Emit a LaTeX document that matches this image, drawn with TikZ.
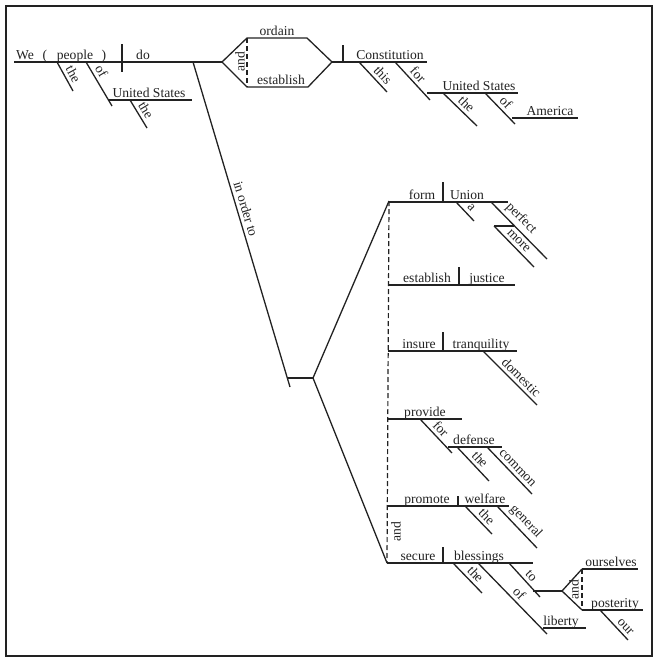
\documentclass[tikz,border=0pt]{standalone}
\usepackage{fontspec}
\setmainfont{Liberation Serif}
\definecolor{ink}{HTML}{222222}
\begin{document}
\begin{tikzpicture}[x=1pt,y=-1pt,
  ln/.style={draw=ink, line width=1.3pt},
  dl/.style={draw=ink, line width=1.2pt, dash pattern=on 5pt off 3pt},
  wd/.style={font=\fontsize{13.6}{15}\selectfont, text=ink, inner sep=0pt, anchor=base},
  sl/.style={font=\fontsize{13.6}{15}\selectfont, text=ink, sloped, above, inner sep=3.2pt},
  rt/.style={font=\fontsize{13.6}{15}\selectfont, text=ink, inner sep=0pt, rotate=90}]
\useasboundingbox (0,0) rectangle (658,664);
\draw[draw=ink, line width=2.6pt] (6,6) rectangle (652,656);

% ---------- subject / predicate ----------
\coordinate (m0) at (14,62);
\coordinate (hexL) at (222,62);
\draw[ln] (m0) -- (hexL);
\draw[ln] (122,44) -- (122,72);
\node[wd] (we) at (25,59) {We};
\node[wd] (lp) at (45,59) {(};
\node[wd] (people) at (75,59) {people};
\node[wd] (rp) at (104,59) {)};
\node[wd] (do) at (143,59) {do};

\draw[ln] (57,62) -- (73,91) node[sl,pos=.55] (the1) {the};
\draw[ln] (86,62) -- (112,106) node[sl,pos=.31] (of1) {of};
\draw[ln] (108,100) -- (192,100);
\node[wd] (us1) at (149,97) {United States};
\draw[ln] (130,100) -- (147,128) node[sl,pos=.51] (the2) {the};

% ---------- compound verb ----------
\coordinate (h1) at (247,38);
\coordinate (h2) at (307,38);
\coordinate (hexR) at (332,62);
\coordinate (h4) at (308,87);
\coordinate (h5) at (247,87);
\draw[ln] (hexL) -- (h1) -- (h2) -- (hexR) -- (h4) -- (h5) -- cycle;
\draw[dl] (h1) -- (h5);
\node[rt] (and1) at (240,62) {and};
\node[wd] (ordain) at (277,35) {ordain};
\node[wd] (establish1) at (281,84) {establish};

% ---------- object ----------
\coordinate (m1) at (427,62);
\draw[ln] (hexR) -- (m1);
\draw[ln] (343,45) -- (343,62);
\node[wd] (constitution) at (390,59) {Constitution};
\draw[ln] (359,62) -- (387,92) node[sl,pos=.63] (this) {this};
\draw[ln] (395,62) -- (430,100) node[sl,pos=.48] (for1) {for};
\draw[ln] (427,93) -- (518,93);
\node[wd] (us2) at (479,90) {United States};
\draw[ln] (443,93) -- (477,126) node[sl,pos=.52] (the3) {the};
\draw[ln] (485,93) -- (515,124) node[sl,pos=.5] (of2) {of};
\draw[ln] (512,118) -- (578,118);
\node[wd] (america) at (550,115) {America};

% ---------- in order to ----------
\draw[ln] (193,62) -- (290,387) node[sl,pos=.46] (iot) {in order to};
\coordinate (fk) at (313,378);
\draw[ln] (288,378) -- (fk);
\coordinate (top) at (389,201);
\coordinate (bot) at (387,563);
\draw[ln] (fk) -- (top);
\draw[ln] (fk) -- (bot);
\draw[dl] (top) -- (bot);

% form Union
\draw[ln] (389,202) -- (508,202);
\draw[ln] (443,182) -- (443,202);
\node[wd] (form) at (422,199) {form};
\node[wd] (union) at (467,199) {Union};
\draw[ln] (456,202) -- (474,221) node[sl,pos=.56] (a) {a};
\draw[ln] (491,202) -- (547,259) node[sl,pos=.41] (perfect) {perfect};
\draw[ln] (494,226) -- (514,226);
\draw[ln] (494,226) -- (534,267) node[sl,pos=.49] (more) {more};

% establish justice
\draw[ln] (389,285) -- (515,285);
\draw[ln] (459,267) -- (459,285);
\node[wd] (establish2) at (427,282) {establish};
\node[wd] (justice) at (487,282) {justice};

% insure tranquility
\draw[ln] (388,351) -- (517,351);
\draw[ln] (443,332) -- (443,351);
\node[wd] (insure) at (419,348) {insure};
\node[wd] (tranq) at (481,348) {tranquility};
\draw[ln] (483,351) -- (537,405) node[sl,pos=.6] (domestic) {domestic};

% provide for defense
\draw[ln] (388,419) -- (462,419);
\node[wd] (provide) at (425,416) {provide};
\draw[ln] (420,419) -- (452,453) node[sl,pos=.46] (for2) {for};
\draw[ln] (448,447) -- (502,447);
\node[wd] (defense) at (474,444) {defense};
\draw[ln] (457,447) -- (489,481) node[sl,pos=.53] (the4) {the};
\draw[ln] (487,447) -- (532,494) node[sl,pos=.56] (common) {common};

% promote welfare
\draw[ln] (388,506) -- (509,506);
\draw[ln] (458,496) -- (458,506);
\node[wd] (promote) at (427,503) {promote};
\node[wd] (welfare) at (485,503) {welfare};
\draw[ln] (465,506) -- (492,534) node[sl,pos=.58] (the5) {the};
\draw[ln] (497,506) -- (537,548) node[sl,pos=.54] (general) {general};
\node[rt] (and2) at (396,532) {and};

% secure blessings
\draw[ln] (387,563) -- (533,563);
\draw[ln] (443,547) -- (443,563);
\node[wd] (secure) at (418,560) {secure};
\node[wd] (blessings) at (479,560) {blessings};
\draw[ln] (453,563) -- (482,593) node[sl,pos=.57] (the6) {the};
\draw[ln] (478,563) -- (547,634) node[sl,pos=.51] (of3) {of};
\draw[ln] (543,628) -- (586,628);
\node[wd] (liberty) at (561,625) {liberty};
\draw[ln] (509,563) -- (540,597) node[sl,pos=.53] (to) {to};
\coordinate (tf) at (562,591);
\draw[ln] (533,591) -- (tf);
\coordinate (o1) at (582,569);
\coordinate (p1) at (582,610);
\draw[ln] (tf) -- (o1);
\draw[ln] (tf) -- (p1);
\draw[dl] (o1) -- (p1);
\node[rt] (and3) at (574,590) {and};
\draw[ln] (o1) -- (638,569);
\node[wd] (ourselves) at (611,566) {ourselves};
\draw[ln] (p1) -- (643,610);
\node[wd] (posterity) at (615,607) {posterity};
\draw[ln] (600,610) -- (628,640) node[sl,pos=.72] (our) {our};
\end{tikzpicture}
\end{document}
